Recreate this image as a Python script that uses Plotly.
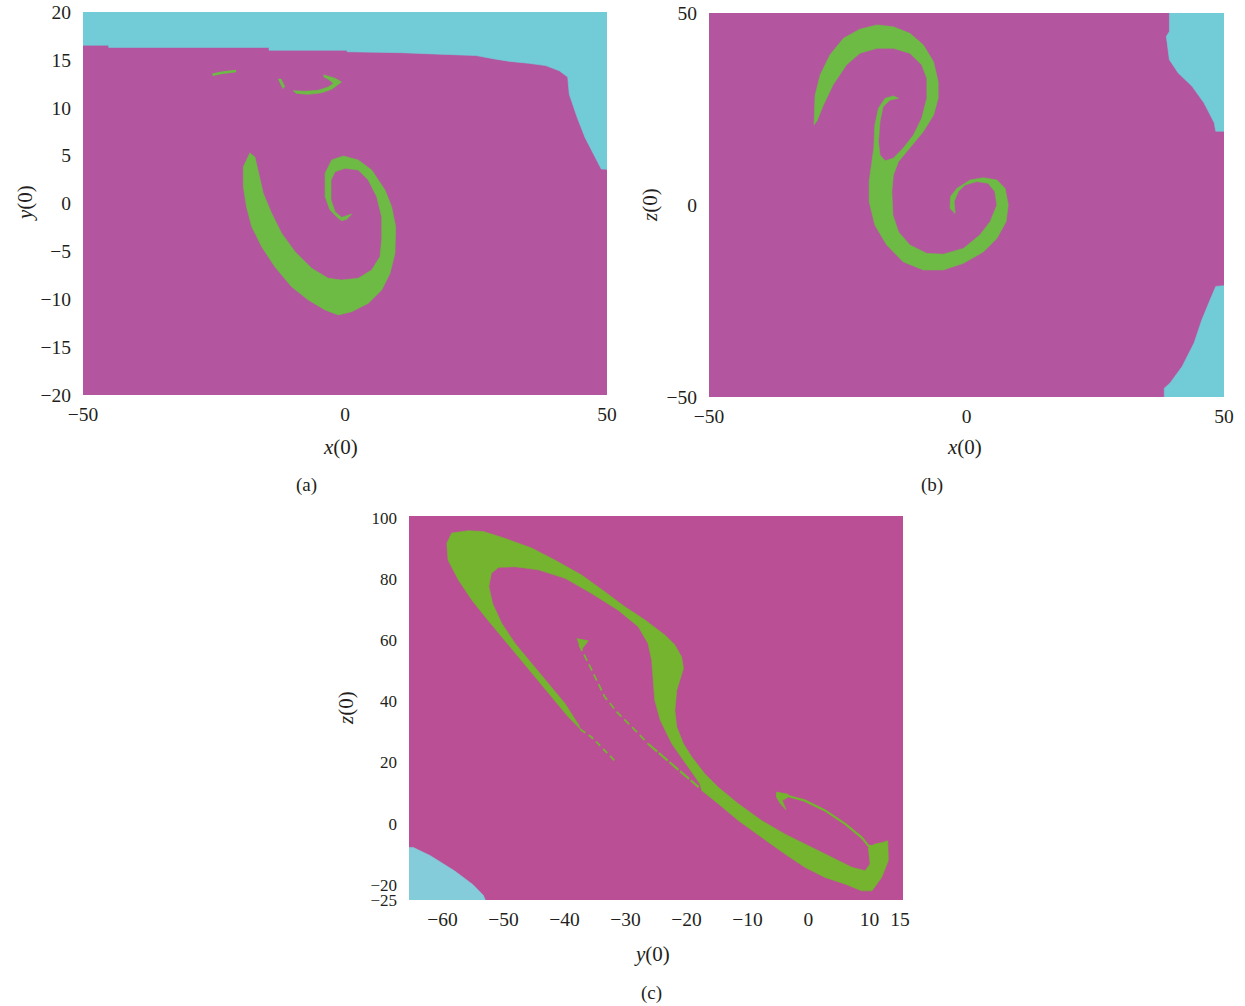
import plotly.graph_objects as go

# ---------------- Panel (a): x(0) vs y(0) ----------------
A_CYAN_X = [-50, -45.1, -45.1, -14.5, -14.5, 0.4, 0.4, 10.75, 17.9, 25.0, 28.5, 31.5, 35.0, 38.3,
            40.9, 42.5, 42.8, 44.3, 45.8, 47.4, 48.9, 50, 50, -50]
A_CYAN_Y = [16.53, 16.53, 16.3, 16.3, 16.0, 16.0, 15.85, 15.75, 15.6, 15.45, 15.1, 14.84, 14.65, 14.4,
            13.86, 13.2, 11.4, 9.0, 6.9, 5.2, 3.6, 3.57, 20, 20]

A_SPIRAL_X = [-18.13, -19.4, -19.4, -18.8, -17.8, -15.9, -13.4, -10.2, -7.0, -3.8, -1.3, 1.28, 4.45, 7.0,
              8.6, 9.54, 9.67, 8.9, 7.63, 5.09, 2.54, -0.32, -2.55, -3.8, -3.8, -2.86, -1.6, -0.65, 0.32,
              1.28, -0.65, -1.9, -2.67, -2.67, -1.9, 0.0, 2.54, 4.45, 6.05, 7.0, 7.0, 6.68, 5.09, 2.54,
              -0.65, -3.2, -6.36, -9.54, -12.1, -14.0, -15.6, -16.55, -17.2]
A_SPIRAL_Y = [5.31, 3.84, 1.76, -0.33, -2.42, -4.51, -6.6, -8.69, -10.08, -11.12, -11.64, -11.3, -10.42,
              -9.03, -7.29, -5.2, -2.42, -0.33, 1.41, 3.5, 4.54, 4.96, 4.54, 3.15, 0.71, -0.68, -1.38,
              -1.8, -1.65, -1.1, -1.45, -0.86, 0.37, 2.45, 3.32, 3.67, 3.5, 2.45, 0.71, -1.38, -3.81,
              -5.55, -6.94, -7.81, -7.99, -7.81, -6.77, -5.03, -3.11, -1.03, 1.06, 3.15, 4.89]

A_HOOK_X = [-4.1, -1.9, -0.65, -2.55, -4.45, -7.0, -9.2, -9.9, -7.6, -5.1, -3.2, -2.2, -3.2, -4.1]
A_HOOK_Y = [13.45, 13.07, 12.69, 11.93, 11.57, 11.4, 11.5, 11.78, 11.72, 11.82, 12.16, 12.55, 12.97, 13.24]
A_BIT_X = [-12.8, -12.2, -11.5, -11.9]
A_BIT_Y = [13.0, 13.0, 12.2, 12.0]
A_STREAK_X = [-25.3, -23.5, -20.8]
A_STREAK_Y = [13.45, 13.65, 13.85]

# ---------------- Panel (b): x(0) vs z(0) ----------------
B_CYAN_TOP_X = [39.4, 39.4, 38.8, 39.4, 41.1, 43.8, 46.1, 48.1, 48.4, 50, 50]
B_CYAN_TOP_Z = [50, 45.2, 43.9, 37.8, 34.4, 30.9, 26.6, 21.4, 19.2, 19.2, 50]
B_CYAN_BOT_X = [50, 48.4, 47.3, 45.7, 44.2, 41.9, 39.5, 38.4, 38.4, 50]
B_CYAN_BOT_Z = [-21.0, -21.2, -24.7, -29.9, -35.9, -42.0, -46.4, -47.7, -50, -50]

B_SPIRAL_X = [-29.6, -29.4, -28.4, -26.5, -23.9, -20.7, -17.4, -14.2, -11.0, -8.4, -6.4, -5.5, -5.5, -6.4,
              -8.4, -11.0, -13.2, -14.2, -14.5, -14.3, -13.2, -11.0, -7.7, -4.5, -0.6, 2.6, 4.6, 5.9,
              5.5, 4.2, 2.0, -0.3, -1.6, -2.4, -2.2, -3.2, -3.1, -1.9, 0.7, 3.3, 5.9, 7.5, 8.1, 7.7,
              5.9, 3.3, -0.6, -4.5, -8.4, -12.3, -15.5, -17.8, -18.9, -18.9, -18.4, -18.0, -17.8, -17.1,
              -15.8, -14.2, -13.2, -14.9, -16.2, -16.8, -17.1, -16.8, -15.8, -14.2, -12.3, -10.3, -8.7,
              -7.7, -7.7, -8.7, -11.0, -14.2, -17.4, -20.7, -23.3, -25.9, -27.8, -29.1]
B_SPIRAL_Z = [20.8, 28.6, 33.9, 39.1, 43.4, 45.8, 46.9, 46.4, 44.7, 41.7, 37.3, 32.1, 27.8, 23.4,
              19.1, 14.8, 11.3, 7.8, 3.5, -2.6, -7.0, -10.4, -12.6, -12.8, -11.3, -7.8, -4.3, 0.0,
              3.5, 5.65, 6.1, 5.2, 3.5, 0.9, -2.2, -0.9, 2.2, 4.3, 6.5, 7.1, 6.5, 4.3, 0.0, -4.3,
              -8.7, -12.2, -15.2, -16.9, -16.9, -14.8, -10.4, -5.2, 0.9, 6.1, 11.3, 14.8, 20.8, 25.2,
              27.8, 28.4, 27.8, 27.3, 25.6, 21.7, 16.5, 13.0, 11.5, 12.2, 14.8, 18.2, 22.6,
              27.8, 33.0, 36.5, 39.5, 40.8, 40.8, 39.5, 36.5, 31.3, 26.0, 21.7]

# ---------------- Panel (c): y(0) vs z(0) ----------------
C_CYAN_Y = [-65.5, -64.8, -62.0, -58.0, -55.0, -53.3, -53.0, -65.5]
C_CYAN_Z = [-7.8, -7.8, -10.5, -15.5, -20.0, -23.5, -25.0, -25.0]

C_MAIN_Y = [-37.2, -39.4, -42.1, -44.8, -47.5, -50.3, -53.0, -55.2, -57.4, -59.1, -59.3, -58.5, -55.8,
            -53.3, -49.8, -45.4, -41.6, -37.2, -33.4, -30.1, -26.8, -23.5, -21.9, -20.8, -20.5, -20.9,
            -21.6, -21.9, -21.6, -20.5, -19.1, -17.0, -14.8, -11.5, -7.7, -3.9, 0.0, 3.9, 7.1, 9.3,
            10.1, 9.8, 10.9, 12.3, 13.0, 13.1, 12.0, 10.4, 8.7, 6.0, 2.7, -0.6, -3.9, -7.7, -11.5,
            -14.8, -17.5, -17.8, -19.7, -22.4, -24.3, -25.2, -25.5, -25.7, -26.3, -27.9, -31.2, -35.6,
            -39.9, -44.3, -48.1, -50.8, -52.0, -52.4, -51.8, -50.3, -48.1, -45.4, -42.6, -39.9, -37.6]
C_MAIN_Z = [30.5, 34.9, 41.4, 48.0, 54.5, 61.1, 67.6, 73.1, 79.7, 86.2, 91.7, 95.0, 95.8,
            95.5, 93.3, 90.1, 86.2, 81.3, 75.8, 70.9, 66.6, 61.6, 58.4, 54.5, 50.7, 48.0,
            43.6, 37.0, 31.6, 26.1, 21.7, 16.3, 11.9, 6.5, 1.0, -3.4, -7.2, -11.0, -14.3, -15.4,
            -13.2, -7.8, -6.7, -6.1, -5.6, -12.1, -17.6, -22.0, -22.0, -19.8, -17.6, -14.3, -9.9, -4.5, 1.0,
            6.5, 10.8, 13.0, 18.5, 26.1, 33.8, 40.3, 48.0, 53.4, 58.9, 64.4, 69.8, 75.3,
            80.2, 83.0, 84.0, 83.8, 81.9, 77.5, 72.0, 65.5, 58.9, 52.4, 45.8, 39.2, 32.0]

C_INNER_TIP_Y = [-38.0, -36.1, -37.3]
C_INNER_TIP_Z = [60.5, 59.8, 56.7]
C_INNER_STRAND_Y = [-37.6, -36.4, -35.0, -33.4, -31.2, -28.4, -26.3]
C_INNER_STRAND_Z = [58.5, 53.4, 48.0, 41.4, 36.0, 30.5, 26.1]
C_INNER_JOIN_Y = [-26.3, -24.1, -20.2, -18.0]
C_INNER_JOIN_Z = [26.1, 22.3, 15.7, 11.9]
C_OUTER_STRAND_Y = [-37.4, -35.6, -33.4, -31.5]
C_OUTER_STRAND_Z = [30.8, 28.3, 23.9, 20.0]
C_LOOP_ARM_Y = [-5.0, -3.6, -0.6, 2.7, 6.0, 8.7, 9.8, 11.0]
C_LOOP_ARM_Z = [9.9, 9.2, 7.5, 4.3, -0.1, -4.5, -7.2, -7.8]
C_HOOK_Y = [-5.3, -3.3, -3.5, -4.3, -3.7, -4.6, -5.3]
C_HOOK_Z = [10.3, 9.6, 8.4, 7.6, 4.5, 6.5, 8.8]

# ---------------- tick labels ----------------
A_XTICKS = [-50, 0, 50]
A_YTICKS = [-20, -15, -10, -5, 0, 5, 10, 15, 20]
B_XTICKS = [-50, 0, 50]
B_ZTICKS = [-50, 0, 50]
C_YTICKS = [-60, -50, -40, -30, -20, -10, 0, 10, 15]
C_ZTICKS = [-25, -20, 0, 20, 40, 60, 80, 100]

MAG_AB, CYAN_AB, GREEN_AB = "#B4559F", "#72CCD7", "#6DBB45"
MAG_C, CYAN_C, GREEN_C = "#BA4F96", "#84CCDA", "#74B42F"
FONT = "Liberation Serif, Times New Roman, serif"
TXT = "#231F20"


def lbl(v):
    return str(v).replace("-", "\u2212")


fig = go.Figure()


def poly(xs, ys, color, xa, ya):
    fig.add_trace(go.Scatter(x=xs, y=ys, mode="lines", fill="toself", fillcolor=color,
                             line=dict(color=color, width=0.6), xaxis=xa, yaxis=ya,
                             hoverinfo="skip", showlegend=False))


def strand(xs, ys, color, width, xa, ya, dash="solid"):
    fig.add_trace(go.Scatter(x=xs, y=ys, mode="lines", line=dict(color=color, width=width, dash=dash),
                             xaxis=xa, yaxis=ya, hoverinfo="skip", showlegend=False))


# panel (a)
poly(A_CYAN_X, A_CYAN_Y, CYAN_AB, "x", "y")
poly(A_SPIRAL_X, A_SPIRAL_Y, GREEN_AB, "x", "y")
poly(A_HOOK_X, A_HOOK_Y, GREEN_AB, "x", "y")
poly(A_BIT_X, A_BIT_Y, GREEN_AB, "x", "y")
strand(A_STREAK_X, A_STREAK_Y, GREEN_AB, 2.5, "x", "y")

# panel (b)
poly(B_CYAN_TOP_X, B_CYAN_TOP_Z, CYAN_AB, "x2", "y2")
poly(B_CYAN_BOT_X, B_CYAN_BOT_Z, CYAN_AB, "x2", "y2")
poly(B_SPIRAL_X, B_SPIRAL_Z, GREEN_AB, "x2", "y2")

# panel (c)
poly(C_CYAN_Y, C_CYAN_Z, CYAN_C, "x3", "y3")
poly(C_MAIN_Y, C_MAIN_Z, GREEN_C, "x3", "y3")
poly(C_INNER_TIP_Y, C_INNER_TIP_Z, GREEN_C, "x3", "y3")
strand(C_INNER_STRAND_Y, C_INNER_STRAND_Z, GREEN_C, 1.8, "x3", "y3", dash="7px,4px")
strand(C_INNER_JOIN_Y, C_INNER_JOIN_Z, GREEN_C, 2.2, "x3", "y3", dash="12px,2px")
strand(C_OUTER_STRAND_Y, C_OUTER_STRAND_Z, GREEN_C, 1.8, "x3", "y3", dash="6px,4px")
strand(C_LOOP_ARM_Y, C_LOOP_ARM_Z, GREEN_C, 2.2, "x3", "y3")
poly(C_HOOK_Y, C_HOOK_Z, GREEN_C, "x3", "y3")

W, H = 1245, 1006


def axis(domain, rng, ticks, anchor, size=19.5, standoff=5):
    return dict(domain=domain, range=rng, tickvals=ticks, ticktext=[lbl(t) for t in ticks],
                showgrid=False, zeroline=False, showline=False, ticks="",
                ticklabelstandoff=standoff, anchor=anchor, automargin=False,
                tickfont=dict(family=FONT, size=size, color=TXT), fixedrange=True)


fig.update_layout(
    width=W, height=H, margin=dict(l=0, r=0, t=0, b=0, autoexpand=False),
    paper_bgcolor="white", plot_bgcolor="white",
    xaxis=axis([83 / W, 607 / W], [-50, 50], A_XTICKS, "y"),
    yaxis=axis([1 - 395 / H, 1 - 12 / H], [-20, 20], A_YTICKS, "x", standoff=11),
    xaxis2=axis([709 / W, 1224 / W], [-50, 50], B_XTICKS, "y2"),
    yaxis2=axis([1 - 397 / H, 1 - 13 / H], [-50, 50], B_ZTICKS, "x2", standoff=11),
    xaxis3=axis([409 / W, 903 / W], [-65.5, 15.5], C_YTICKS, "y3"),
    yaxis3=axis([1 - 900 / H, 1 - 516 / H], [-25, 100.6], C_ZTICKS, "x3", size=17, standoff=11),
)

shapes = []
for xr, yr, col in [("x", "y", MAG_AB), ("x2", "y2", MAG_AB), ("x3", "y3", MAG_C)]:
    shapes.append(dict(type="rect", xref=xr + " domain", yref=yr + " domain", x0=0, x1=1, y0=0, y1=1,
                       fillcolor=col, line=dict(width=0), layer="below"))
fig.update_layout(shapes=shapes)

ann = []


def text(x, y, s, angle=0, size=21):
    ann.append(dict(x=x / W, y=1 - y / H, xref="paper", yref="paper", text=s, showarrow=False,
                    textangle=angle, font=dict(family=FONT, size=size, color=TXT),
                    xanchor="center", yanchor="middle"))


text(340, 447, "<i>x</i>(0)")
text(25, 203, "<i>y</i>(0)", -90)
text(306, 485, "(a)", size=19)
text(964, 447, "<i>x</i>(0)")
text(650, 205, "<i>z</i>(0)", -90)
text(932, 485, "(b)", size=19)
text(652, 954, "<i>y</i>(0)")
text(346, 708, "<i>z</i>(0)", -90)
text(651, 993, "(c)", size=19)
fig.update_layout(annotations=ann)

fig.write_html("out.html")
